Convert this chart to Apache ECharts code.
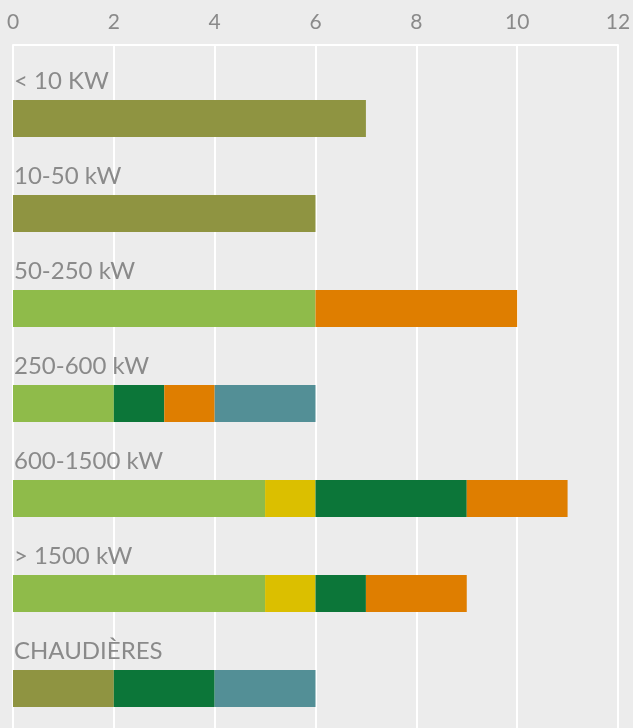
<!DOCTYPE html>
<html>
<head>
<meta charset="utf-8">
<script src="https://cdn.jsdelivr.net/npm/echarts@6/dist/echarts.min.js"></script>
<style>
  html, body { margin: 0; padding: 0; background: #ececec; }
  #chart { width: 633px; height: 728px; }
</style>
</head>
<body>
<div id="chart"></div>
<script>
// catégories (la dernière, vide, sert de marge en bas)
const categories = ['< 10 KW', '10-50 kW', '50-250 kW', '250-600 kW', '600-1500 kW', '> 1500 kW', 'CHAUDIÈRES', '']
const xTicks = [0, 2, 4, 6, 8, 10, 12]

// segments empilés, un tableau par couleur
const olive = [7, 6, 0, 0, 0, 0, 2]
const lightGreen = [0, 0, 6, 2, 5, 5, 0]
const yellow = [0, 0, 0, 0, 1, 1, 0]
const darkGreen = [0, 0, 0, 1, 3, 1, 2]
const orange = [0, 0, 4, 1, 2, 2, 0]
const teal = [0, 0, 0, 2, 0, 0, 2]

const colors = {
  olive: '#8f9441',
  lightGreen: '#8fbb4a',
  yellow: '#dbbf00',
  darkGreen: '#0c7639',
  orange: '#df7e00',
  teal: '#538f96'
}

const textColor = '#8a8a8a'
const font = 'Lato, "Open Sans", sans-serif'

function stackSeries(name, data, color) {
  return {
    name: name,
    type: 'bar',
    stack: 'total',
    barWidth: 37,
    barGap: '0%',
    silent: true,
    data: data.map(v => (v === 0 ? '-' : v)),
    itemStyle: { color: color }
  }
}

const myChart = echarts.init(document.getElementById('chart'))

const option = {
  backgroundColor: '#ececec',
  animation: false,
  grid: {
    left: 13,
    right: 15,
    top: 45,
    height: 95 * categories.length,
    outerBoundsMode: 'none'
  },
  xAxis: {
    type: 'value',
    position: 'top',
    min: xTicks[0],
    max: xTicks[xTicks.length - 1],
    interval: 2,
    axisLine: { show: true, lineStyle: { color: '#ffffff', width: 2 } },
    axisTick: { show: false },
    axisLabel: {
      color: textColor,
      fontSize: 21,
      fontFamily: font,
      margin: 12
    },
    splitLine: { show: true, lineStyle: { color: '#ffffff', width: 2 } }
  },
  yAxis: {
    type: 'category',
    inverse: true,
    data: categories,
    axisLine: { show: false },
    axisTick: { show: false },
    splitLine: { show: false },
    axisLabel: {
      inside: true,
      interval: 0,
      margin: 1,
      color: textColor,
      fontSize: 24,
      fontFamily: font,
      verticalAlign: 'bottom',
      lineHeight: 23
    }
  },
  series: [
    // série vide qui décale les barres sous leur libellé
    {
      name: 'spacer',
      type: 'bar',
      stack: 'spacer',
      barWidth: 52,
      barGap: '0%',
      silent: true,
      data: [],
      itemStyle: { opacity: 0 }
    },
    stackSeries('A', olive, colors.olive),
    stackSeries('B', lightGreen, colors.lightGreen),
    stackSeries('C', yellow, colors.yellow),
    stackSeries('D', darkGreen, colors.darkGreen),
    stackSeries('E', orange, colors.orange),
    stackSeries('F', teal, colors.teal)
  ]
}

myChart.setOption(option)
</script>
</body>
</html>
